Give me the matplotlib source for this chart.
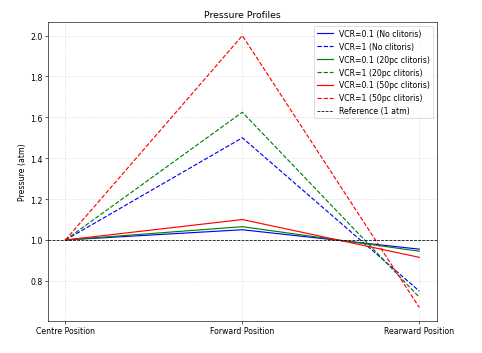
import matplotlib.pyplot as plt

# Positions along the device
positions = ['Centre Position', 'Forward Position', 'Rearward Position']

# Pressure values (atm)
vcr01_none = [1.0, 1.05, 0.955]
vcr1_none = [1.0, 1.5, 0.75]
vcr01_20 = [1.0, 1.065, 0.945]
vcr1_20 = [1.0, 1.625, 0.72]
vcr01_50 = [1.0, 1.10, 0.915]
vcr1_50 = [1.0, 2.0, 0.67]

fig, ax = plt.subplots(figsize=(8.638, 6.344), dpi=55.8)
fig.subplots_adjust(left=0.099, right=0.9066, top=0.935, bottom=0.0904)

x = range(len(positions))
ax.plot(x, vcr01_none, color='blue', linestyle='-', linewidth=1.5, label='VCR=0.1 (No clitoris)')
ax.plot(x, vcr1_none, color='blue', linestyle='--', linewidth=1.5, label='VCR=1 (No clitoris)')
ax.plot(x, vcr01_20, color='green', linestyle='-', linewidth=1.5, label='VCR=0.1 (20pc clitoris)')
ax.plot(x, vcr1_20, color='green', linestyle='--', linewidth=1.5, label='VCR=1 (20pc clitoris)')
ax.plot(x, vcr01_50, color='red', linestyle='-', linewidth=1.5, label='VCR=0.1 (50pc clitoris)')
ax.plot(x, vcr1_50, color='red', linestyle='--', linewidth=1.5, label='VCR=1 (50pc clitoris)')
ax.axhline(1.0, color='black', linestyle='--', linewidth=1, label='Reference (1 atm)')

ax.set_xticks(list(x))
ax.set_xticklabels(positions)
ax.set_ylabel('Pressure (atm)')
ax.set_title('Pressure Profiles')
ax.legend(loc='upper right')
ax.grid(True, linestyle='--', alpha=0.4)

fig.savefig('out.png', dpi=55.8)
